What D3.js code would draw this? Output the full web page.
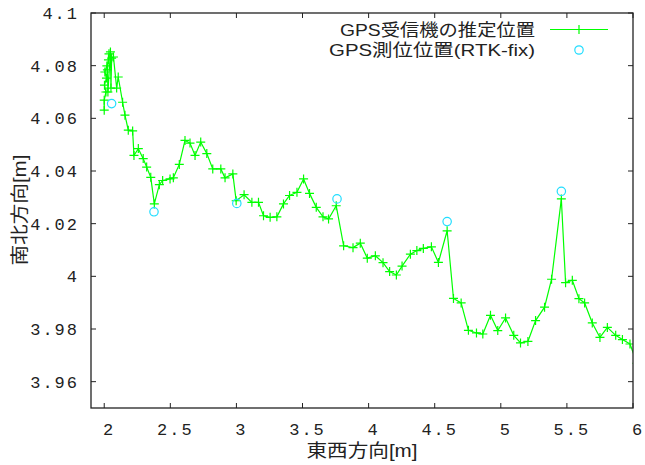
<!DOCTYPE html>
<html><head><meta charset="utf-8">
<script src="https://cdn.jsdelivr.net/npm/d3@7"></script>
<style>body{margin:0;background:#fff}</style>
</head><body>
<svg id="c" width="645" height="465"></svg>
<script>
// Estimated track (GPS receiver estimate)
const trackX = [2.000,2.000,2.013,2.002,2.017,2.005,2.020,2.032,2.036,2.024,2.028,2.047,2.051,2.056,2.070,2.094,2.106,2.139,2.157,2.182,2.215,2.225,2.258,2.295,2.321,2.352,2.379,2.417,2.442,2.498,2.523,2.568,2.611,2.649,2.687,2.730,2.776,2.821,2.882,2.914,2.973,2.998,3.058,3.117,3.167,3.205,3.255,3.306,3.356,3.402,3.458,3.508,3.553,3.604,3.655,3.697,3.755,3.811,3.882,3.937,3.990,4.051,4.109,4.159,4.210,4.253,4.316,4.365,4.414,4.475,4.528,4.594,4.642,4.700,4.755,4.816,4.864,4.922,4.977,5.036,5.098,5.149,5.205,5.263,5.331,5.384,5.458,5.490,5.541,5.591,5.634,5.692,5.750,5.806,5.869,5.920,5.977,6.030];
const trackY = [4.0631,4.0669,4.0700,4.0726,4.0753,4.0776,4.0799,4.0822,4.0845,4.0784,4.0700,4.0852,4.0715,4.0829,4.0833,4.0715,4.0757,4.0661,4.0612,4.0555,4.0552,4.0459,4.0485,4.0447,4.0415,4.0376,4.0275,4.0348,4.0364,4.0370,4.0374,4.0425,4.0516,4.0506,4.0459,4.0510,4.0466,4.0408,4.0408,4.0374,4.0389,4.0287,4.0310,4.0281,4.0281,4.0230,4.0224,4.0226,4.0275,4.0307,4.0319,4.0370,4.0315,4.0262,4.0226,4.0218,4.0268,4.0116,4.0109,4.0126,4.0069,4.0078,4.0052,4.0018,4.0005,4.0039,4.0084,4.0098,4.0106,4.0112,4.0053,4.0173,3.9916,3.9899,3.9795,3.9785,3.9781,3.9852,3.9794,3.9842,3.9776,3.9747,3.9753,3.9832,3.9883,3.9989,4.0294,3.9976,3.9985,3.9915,3.9899,3.9823,3.9768,3.9806,3.9776,3.9760,3.9743,3.9670];
// RTK-fix positions
const fixX = [2.056,2.3765,3.003,3.761,4.594,5.458];
const fixY = [4.0656,4.0245,4.0277,4.0294,4.0208,4.0323];
const xTicks = [2,2.5,3,3.5,4,4.5,5,5.5,6];
const xTickLabels = ["2","2.5","3","3.5","4","4.5","5","5.5","6"];
const yTicks = [3.96,3.98,4.00,4.02,4.04,4.06,4.08,4.10];
const yTickLabels = ["3.96","3.98","4","4.02","4.04","4.06","4.08","4.1"];
const legendLabels = ["GPS受信機の推定位置","GPS測位位置(RTK-fix)"];
const xLabel = "東西方向[m]", yLabel = "南北方向[m]";

const L=91, R=633, T=13, B=408;
const svg = d3.select("#c");
const x = d3.scaleLinear().domain([1.9,6]).range([L,R]);
const y = d3.scaleLinear().domain([3.95,4.1]).range([B,T]);
const green="#00ff00", cyan="#22ddff";
const monoFont = "'Liberation Mono', 'DejaVu Sans Mono', monospace";
const cjk = "'Liberation Sans', 'Noto Sans CJK JP', sans-serif";

svg.append("defs").append("clipPath").attr("id","clip")
  .append("rect").attr("x",L).attr("y",T).attr("width",R-L).attr("height",B-T);

// ticks (inward, mirrored)
const tk = svg.append("g").attr("stroke","#222").attr("stroke-width",1);
xTicks.forEach(v=>{
  tk.append("line").attr("x1",x(v)).attr("x2",x(v)).attr("y1",B).attr("y2",B-5);
  tk.append("line").attr("x1",x(v)).attr("x2",x(v)).attr("y1",T).attr("y2",T+5);
});
yTicks.forEach(v=>{
  tk.append("line").attr("x1",L).attr("x2",L+5).attr("y1",y(v)).attr("y2",y(v));
  tk.append("line").attr("x1",R).attr("x2",R-5).attr("y1",y(v)).attr("y2",y(v));
});
// tick labels
xTicks.forEach((v,i)=>{
  svg.append("text").attr("x",x(v)+5).attr("y",435).attr("text-anchor","middle")
    .attr("font-family",monoFont).attr("font-size",17).style("letter-spacing","2px")
    .attr("fill","#222").text(xTickLabels[i]);
});
yTicks.forEach((v,i)=>{
  svg.append("text").attr("x",79).attr("y",y(v)+6).attr("text-anchor","end")
    .attr("font-family",monoFont).attr("font-size",17).style("letter-spacing","2px")
    .attr("fill","#222").text(yTickLabels[i]);
});

// data line + crosses
const pts = trackX.map((v,i)=>[v,trackY[i]]);
const g = svg.append("g").attr("clip-path","url(#clip)");
g.append("path").datum(pts)
  .attr("d", d3.line().x(d=>x(d[0])).y(d=>y(d[1])))
  .attr("fill","none").attr("stroke",green).attr("stroke-width",1.2);
const a=4.5;
g.selectAll("path.cross").data(pts).enter().append("path").attr("class","cross")
  .attr("d",d=>{const px=x(d[0]),py=y(d[1]);return `M${px-a},${py}H${px+a}M${px},${py-a}V${py+a}`;})
  .attr("stroke",green).attr("stroke-width",1.2).attr("fill","none");
// fix circles
g.selectAll("circle").data(fixX.map((v,i)=>[v,fixY[i]])).enter().append("circle")
  .attr("cx",d=>x(d[0])).attr("cy",d=>y(d[1])).attr("r",4.2)
  .attr("fill","none").attr("stroke",cyan).attr("stroke-width",1.2);

// frame
svg.append("rect").attr("x",L).attr("y",T).attr("width",R-L).attr("height",B-T)
  .attr("fill","none").attr("stroke","#222").attr("stroke-width",1.3);

// legend
svg.append("text").attr("x",535).attr("y",35.5).attr("text-anchor","end")
  .attr("font-family",cjk).attr("font-size",17).attr("fill","#222")
  .attr("textLength",195).attr("lengthAdjust","spacingAndGlyphs").text(legendLabels[0]);
svg.append("text").attr("x",535).attr("y",55.5).attr("text-anchor","end")
  .attr("font-family",cjk).attr("font-size",17).attr("fill","#222")
  .attr("textLength",206).attr("lengthAdjust","spacingAndGlyphs").text(legendLabels[1]);
svg.append("line").attr("x1",550).attr("x2",608).attr("y1",29.5).attr("y2",29.5)
  .attr("stroke",green).attr("stroke-width",1.2);
svg.append("path").attr("d",`M${579-a},29.5H${579+a}M579,${29.5-a}V${29.5+a}`)
  .attr("stroke",green).attr("stroke-width",1.2);
svg.append("circle").attr("cx",579).attr("cy",50).attr("r",4.2)
  .attr("fill","none").attr("stroke",cyan).attr("stroke-width",1.2);

// axis labels
svg.append("text").attr("x",(L+R)/2).attr("y",457).attr("text-anchor","middle")
  .attr("font-family",cjk).attr("font-size",18).attr("fill","#222")
  .attr("textLength",111).attr("lengthAdjust","spacingAndGlyphs").text(xLabel);
svg.append("text").attr("transform","translate(26,210) rotate(-90)").attr("text-anchor","middle")
  .attr("font-family",cjk).attr("font-size",18).attr("fill","#222")
  .attr("textLength",111).attr("lengthAdjust","spacingAndGlyphs").text(yLabel);
</script>
</body></html>
